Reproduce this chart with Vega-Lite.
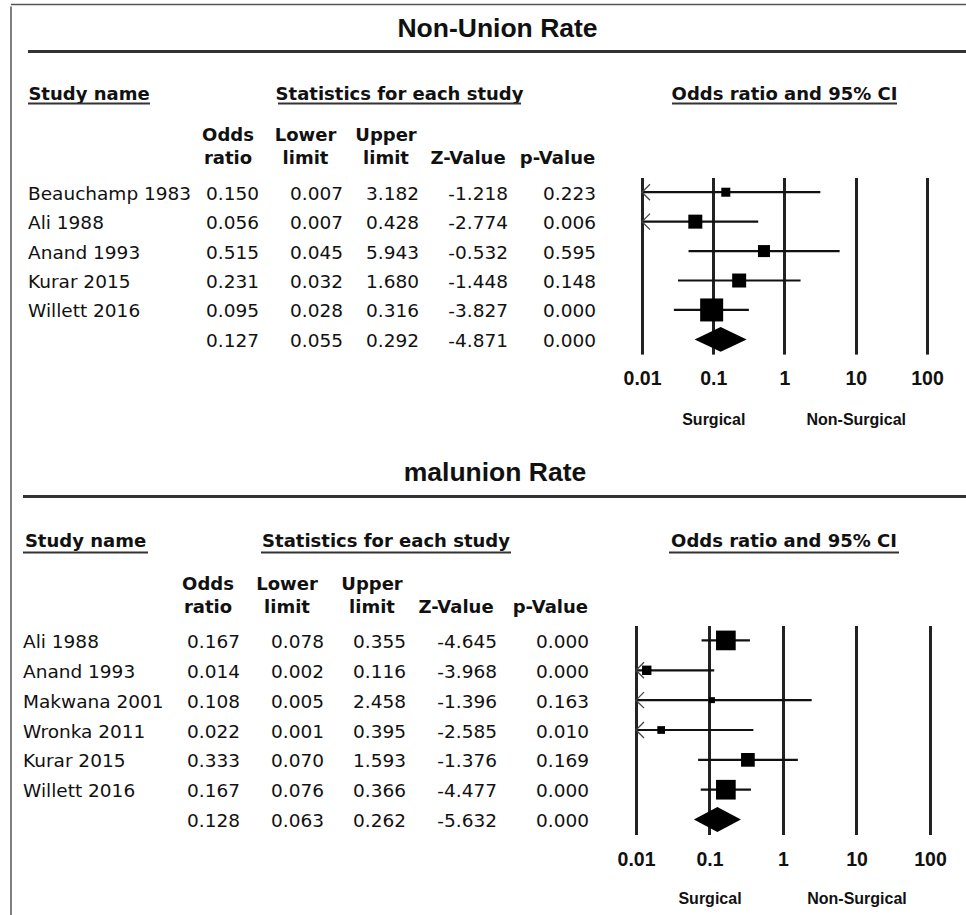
{
  "$schema": "https://vega.github.io/schema/vega-lite/v6.json",
  "padding": {"left": 10, "top": 3.5, "right": 0, "bottom": 0},
  "background": "white",
  "config": {
    "view": {"stroke": null},
    "locale": {"number": {"decimal": ".", "thousands": ",", "grouping": [3], "currency": ["$", ""], "minus": "-"}},
    "text": {"font": "DejaVu Sans", "color": "#111"}
  },
  "datasets": {
    "nonunion": [
      {"row": 1, "study": "Beauchamp 1983", "kind": "study", "or": 0.150, "lower": 0.007, "upper": 3.182, "z": -1.218, "p": 0.223, "weight": 7.1},
      {"row": 2, "study": "Ali 1988", "kind": "study", "or": 0.056, "lower": 0.007, "upper": 0.428, "z": -2.774, "p": 0.006, "weight": 17.1},
      {"row": 3, "study": "Anand 1993", "kind": "study", "or": 0.515, "lower": 0.045, "upper": 5.943, "z": -0.532, "p": 0.595, "weight": 12.6},
      {"row": 4, "study": "Kurar 2015", "kind": "study", "or": 0.231, "lower": 0.032, "upper": 1.680, "z": -1.448, "p": 0.148, "weight": 17.1},
      {"row": 5, "study": "Willett 2016", "kind": "study", "or": 0.095, "lower": 0.028, "upper": 0.316, "z": -3.827, "p": 0.000, "weight": 46.2},
      {"row": 6, "study": "", "kind": "summary", "or": 0.127, "lower": 0.055, "upper": 0.292, "z": -4.871, "p": 0.000, "weight": null}
    ],
    "malunion": [
      {"row": 1, "study": "Ali 1988", "kind": "study", "or": 0.167, "lower": 0.078, "upper": 0.355, "z": -4.645, "p": 0.000, "weight": 33.8},
      {"row": 2, "study": "Anand 1993", "kind": "study", "or": 0.014, "lower": 0.002, "upper": 0.116, "z": -3.968, "p": 0.000, "weight": 7.7},
      {"row": 3, "study": "Makwana 2001", "kind": "study", "or": 0.108, "lower": 0.005, "upper": 2.458, "z": -1.396, "p": 0.163, "weight": 3.1},
      {"row": 4, "study": "Wronka 2011", "kind": "study", "or": 0.022, "lower": 0.001, "upper": 0.395, "z": -2.585, "p": 0.010, "weight": 5.2},
      {"row": 5, "study": "Kurar 2015", "kind": "study", "or": 0.333, "lower": 0.070, "upper": 1.593, "z": -1.376, "p": 0.169, "weight": 16.4},
      {"row": 6, "study": "Willett 2016", "kind": "study", "or": 0.167, "lower": 0.076, "upper": 0.366, "z": -4.477, "p": 0.000, "weight": 33.8},
      {"row": 7, "study": "", "kind": "summary", "or": 0.128, "lower": 0.063, "upper": 0.262, "z": -5.632, "p": 0.000, "weight": null}
    ]
  },
  "spacing": 0,
  "vconcat": [
    {"width": 956, "height": 1, "data": {"values": [{}]}, "mark": {"type": "rule", "color": "#555", "strokeWidth": 1.5},
     "encoding": {"y": {"datum": 1, "type": "quantitative", "scale": {"domain": [0, 1]}, "axis": null}}},
    {"spacing": 11, "bounds": "flush", "hconcat": [
      {"width": 1, "height": 910, "data": {"values": [{}]}, "mark": {"type": "rule", "color": "#555", "strokeWidth": 1.5},
       "encoding": {"x": {"datum": 0, "type": "quantitative", "scale": {"domain": [0, 1]}, "axis": null}}},
      {"spacing": 20, "vconcat": [
        {"spacing": 0, "bounds": "flush", "hconcat": [
          {"width": 5, "height": 1, "data": {"values": [{}]}, "mark": {"type": "rect", "opacity": 0}, "encoding": {}},
          {"spacing": 0, "vconcat": [
            {"width": 939, "height": 45, "data": {"values": [{"t": "Non-Union Rate"}]},
             "layer": [
               {"mark": {"type": "text", "font": "Liberation Sans", "fontSize": 26.5, "fontWeight": "bold", "baseline": "middle", "color": "#111"},
                "encoding": {"y": {"field": "t", "type": "nominal", "axis": null, "scale": {"type": "band", "paddingInner": 0, "paddingOuter": 0}}, "text": {"field": "t"}}},
               {"mark": {"type": "rule", "strokeWidth": 3, "color": "#333"},
                "encoding": {"y": {"field": "t", "type": "nominal", "axis": null, "bandPosition": 1}}}
             ]},
            {"width": 1, "height": 31.5, "data": {"values": [{}]}, "mark": {"type": "rect", "opacity": 0}, "encoding": {}},
            {"spacing": 0, "bounds": "flush", "hconcat": [
              {"width": 122, "height": 18, "data": {"values": [{"h": "Study name"}]},
               "layer": [
                 {"mark": {"type": "text", "fontSize": 18, "fontWeight": "bold", "baseline": "middle"},
                  "encoding": {"y": {"field": "h", "type": "nominal", "axis": null, "scale": {"type": "band", "paddingInner": 0, "paddingOuter": 0}}, "text": {"field": "h"}}},
                 {"mark": {"type": "rule", "strokeWidth": 2, "color": "#333"}, "encoding": {"y": {"field": "h", "type": "nominal", "axis": null, "bandPosition": 1}}}
               ]},
              {"width": 128, "height": 1, "data": {"values": [{}]}, "mark": {"type": "rect", "opacity": 0}, "encoding": {}},
              {"width": 243, "height": 18, "data": {"values": [{"h": "Statistics for each study"}]},
               "layer": [
                 {"mark": {"type": "text", "fontSize": 18, "fontWeight": "bold", "baseline": "middle"},
                  "encoding": {"y": {"field": "h", "type": "nominal", "axis": null, "scale": {"type": "band", "paddingInner": 0, "paddingOuter": 0}}, "text": {"field": "h"}}},
                 {"mark": {"type": "rule", "strokeWidth": 2, "color": "#333"}, "encoding": {"y": {"field": "h", "type": "nominal", "axis": null, "bandPosition": 1}}}
               ]},
              {"width": 151, "height": 1, "data": {"values": [{}]}, "mark": {"type": "rect", "opacity": 0}, "encoding": {}},
              {"width": 225, "height": 18, "data": {"values": [{"h": "Odds ratio and 95% CI"}]},
               "layer": [
                 {"mark": {"type": "text", "fontSize": 18, "fontWeight": "bold", "baseline": "middle"},
                  "encoding": {"y": {"field": "h", "type": "nominal", "axis": null, "scale": {"type": "band", "paddingInner": 0, "paddingOuter": 0}}, "text": {"field": "h"}}},
                 {"mark": {"type": "rule", "strokeWidth": 2, "color": "#333"}, "encoding": {"y": {"field": "h", "type": "nominal", "axis": null, "bandPosition": 1}}}
               ]}
            ]},
            {"width": 1, "height": 21.7, "data": {"values": [{}]}, "mark": {"type": "rect", "opacity": 0}, "encoding": {}},
            {"spacing": 0, "bounds": "flush", "hconcat": [
              {"width": 183, "height": 176.6, "data": {"name": "nonunion"},
               "mark": {"type": "text", "align": "left", "baseline": "middle", "fontSize": 18.5, "dy": 1.5},
               "encoding": {"x": {"datum": 0, "type": "quantitative", "scale": {"domain": [0, 1]}, "axis": null},
                            "y": {"field": "row", "type": "ordinal", "axis": null, "scale": {"type": "band", "paddingInner": 0, "paddingOuter": 0}},
                            "text": {"field": "study"}}},
              {"width": 96, "height": 176.6, "data": {"name": "nonunion"},
               "title": {"text": ["Odds", "ratio"], "frame": "group", "anchor": "middle", "align": "center", "baseline": "bottom", "offset": -8, "dx": -31, "font": "DejaVu Sans", "fontSize": 18, "fontWeight": "bold", "lineHeight": 23, "color": "#111"},
               "mark": {"type": "text", "align": "right", "baseline": "middle", "fontSize": 18.5, "dy": 1.5},
               "encoding": {"y": {"field": "row", "type": "ordinal", "axis": null, "scale": {"type": "band", "paddingInner": 0, "paddingOuter": 0}},
                            "text": {"field": "or", "type": "quantitative", "format": ".3f"}}},
              {"width": 72, "height": 176.6, "data": {"name": "nonunion"},
               "title": {"text": ["Lower", "limit"], "frame": "group", "anchor": "middle", "align": "center", "baseline": "bottom", "offset": -8, "dx": -37.5, "font": "DejaVu Sans", "fontSize": 18, "fontWeight": "bold", "lineHeight": 23, "color": "#111"},
               "mark": {"type": "text", "align": "right", "baseline": "middle", "fontSize": 18.5, "dy": 1.5},
               "encoding": {"y": {"field": "row", "type": "ordinal", "axis": null, "scale": {"type": "band", "paddingInner": 0, "paddingOuter": 0}},
                            "text": {"field": "lower", "type": "quantitative", "format": ".3f"}}},
              {"width": 80, "height": 176.6, "data": {"name": "nonunion"},
               "title": {"text": ["Upper", "limit"], "frame": "group", "anchor": "middle", "align": "center", "baseline": "bottom", "offset": -8, "dx": -33, "font": "DejaVu Sans", "fontSize": 18, "fontWeight": "bold", "lineHeight": 23, "color": "#111"},
               "mark": {"type": "text", "align": "right", "baseline": "middle", "fontSize": 18.5, "dy": 1.5},
               "encoding": {"y": {"field": "row", "type": "ordinal", "axis": null, "scale": {"type": "band", "paddingInner": 0, "paddingOuter": 0}},
                            "text": {"field": "upper", "type": "quantitative", "format": ".3f"}}},
              {"width": 98, "height": 176.6, "data": {"name": "nonunion"},
               "title": {"text": "Z-Value", "frame": "group", "anchor": "middle", "align": "center", "baseline": "bottom", "offset": -8, "dx": -40, "font": "DejaVu Sans", "fontSize": 18, "fontWeight": "bold", "lineHeight": 23, "color": "#111"},
               "mark": {"type": "text", "align": "right", "baseline": "middle", "fontSize": 18.5, "dy": 1.5},
               "encoding": {"y": {"field": "row", "type": "ordinal", "axis": null, "scale": {"type": "band", "paddingInner": 0, "paddingOuter": 0}},
                            "text": {"field": "z", "type": "quantitative", "format": ".3f"}}},
              {"width": 78, "height": 176.6, "data": {"name": "nonunion"},
               "title": {"text": "p-Value", "frame": "group", "anchor": "middle", "align": "center", "baseline": "bottom", "offset": -8, "dx": -38.5, "font": "DejaVu Sans", "fontSize": 18, "fontWeight": "bold", "lineHeight": 23, "color": "#111"},
               "mark": {"type": "text", "align": "right", "baseline": "middle", "fontSize": 18.5, "dy": 1.5},
               "encoding": {"y": {"field": "row", "type": "ordinal", "axis": null, "scale": {"type": "band", "paddingInner": 0, "paddingOuter": 0}},
                            "text": {"field": "p", "type": "quantitative", "format": ".3f"}}},
              {"width": 7, "height": 1, "data": {"values": [{}]}, "mark": {"type": "rect", "opacity": 0}, "encoding": {}},
              {"width": 285, "height": 176.6, "data": {"name": "nonunion"},
               "resolve": {"axis": {"x": "independent"}},
               "layer": [
                 {"transform": [{"filter": "datum.kind == 'study'"}],
                  "mark": {"type": "rule", "strokeWidth": 2.2, "color": "#111"},
                  "encoding": {
                    "x": {"field": "lower", "type": "quantitative",
                          "scale": {"type": "log", "domain": [0.01, 100], "clamp": true},
                          "axis": {"orient": "bottom", "values": [0.01, 0.1, 1, 10, 100], "labelExpr": "'' + datum.value", "grid": true, "gridColor": "#222", "gridWidth": 3, "gridOpacity": 1, "domain": false, "ticks": false, "tickSize": 0, "labelPadding": 15.5, "labelFont": "Liberation Sans", "labelFontWeight": "bold", "labelFontSize": 19.5, "labelColor": "#111", "labelFlush": false, "labelOverlap": false, "title": null}},
                    "x2": {"field": "upper"},
                    "y": {"field": "row", "type": "ordinal", "axis": null, "scale": {"type": "band", "paddingInner": 0, "paddingOuter": 0}}}},
                 {"transform": [{"filter": "datum.lower < 0.01"}],
                  "mark": {"type": "point", "shape": "M1,-1L0,0L1,1", "size": 256, "filled": false, "strokeWidth": 1.3, "color": "#444", "opacity": 1},
                  "encoding": {
                    "x": {"field": "lower", "type": "quantitative", "axis": null},
                    "y": {"field": "row", "type": "ordinal", "axis": null}}},
                 {"transform": [{"filter": "datum.kind == 'study'"}],
                  "mark": {"type": "point", "shape": "square", "filled": true, "color": "#000", "opacity": 1},
                  "encoding": {
                    "x": {"field": "or", "type": "quantitative",
                          "axis": {"orient": "bottom", "values": [0.1, 10], "labelExpr": "datum.value < 1 ? 'Surgical' : 'Non-Surgical'", "grid": false, "domain": false, "ticks": false, "tickSize": 0, "labelPadding": 57.8, "labelFont": "Liberation Sans", "labelFontWeight": "bold", "labelFontSize": 16, "labelColor": "#111", "labelFlush": false, "labelOverlap": false, "title": null}},
                    "y": {"field": "row", "type": "ordinal", "axis": null},
                    "size": {"field": "weight", "type": "quantitative", "scale": {"domain": [0, 46.2], "range": [0, 529]}, "legend": null}}},
                 {"transform": [{"filter": "datum.kind == 'summary'"}],
                  "mark": {"type": "point", "shape": "M-1,0L0,-0.48L1,0L0,0.48Z", "size": 2704, "filled": true, "color": "#000", "opacity": 1},
                  "encoding": {
                    "x": {"field": "or", "type": "quantitative", "axis": null},
                    "y": {"field": "row", "type": "ordinal", "axis": null}}}
               ]}
            ]}
          ]}
        ]},
        {"spacing": 0, "vconcat": [
          {"width": 944, "height": 48, "data": {"values": [{"t": "malunion Rate"}]},
           "layer": [
             {"mark": {"type": "text", "font": "Liberation Sans", "fontSize": 26.5, "fontWeight": "bold", "baseline": "middle", "color": "#111"},
              "encoding": {"y": {"field": "t", "type": "nominal", "axis": null, "scale": {"type": "band", "paddingInner": 0, "paddingOuter": 0}}, "text": {"field": "t"}}},
             {"mark": {"type": "rule", "strokeWidth": 3, "color": "#333"},
              "encoding": {"y": {"field": "t", "type": "nominal", "axis": null, "bandPosition": 1}}}
           ]},
          {"width": 1, "height": 33, "data": {"values": [{}]}, "mark": {"type": "rect", "opacity": 0}, "encoding": {}},
          {"spacing": 0, "bounds": "flush", "hconcat": [
            {"width": 125, "height": 21, "data": {"values": [{"h": "Study name"}]},
             "layer": [
               {"mark": {"type": "text", "fontSize": 18, "fontWeight": "bold", "baseline": "middle"},
                "encoding": {"y": {"field": "h", "type": "nominal", "axis": null, "scale": {"type": "band", "paddingInner": 0, "paddingOuter": 0}}, "text": {"field": "h"}}},
               {"mark": {"type": "rule", "strokeWidth": 2, "color": "#333"}, "encoding": {"y": {"field": "h", "type": "nominal", "axis": null, "bandPosition": 1}}}
             ]},
            {"width": 113, "height": 1, "data": {"values": [{}]}, "mark": {"type": "rect", "opacity": 0}, "encoding": {}},
            {"width": 250, "height": 21, "data": {"values": [{"h": "Statistics for each study"}]},
             "layer": [
               {"mark": {"type": "text", "fontSize": 18, "fontWeight": "bold", "baseline": "middle"},
                "encoding": {"y": {"field": "h", "type": "nominal", "axis": null, "scale": {"type": "band", "paddingInner": 0, "paddingOuter": 0}}, "text": {"field": "h"}}},
               {"mark": {"type": "rule", "strokeWidth": 2, "color": "#333"}, "encoding": {"y": {"field": "h", "type": "nominal", "axis": null, "bandPosition": 1}}}
             ]},
            {"width": 158, "height": 1, "data": {"values": [{}]}, "mark": {"type": "rect", "opacity": 0}, "encoding": {}},
            {"width": 230, "height": 21, "data": {"values": [{"h": "Odds ratio and 95% CI"}]},
             "layer": [
               {"mark": {"type": "text", "fontSize": 18, "fontWeight": "bold", "baseline": "middle"},
                "encoding": {"y": {"field": "h", "type": "nominal", "axis": null, "scale": {"type": "band", "paddingInner": 0, "paddingOuter": 0}}, "text": {"field": "h"}}},
               {"mark": {"type": "rule", "strokeWidth": 2, "color": "#333"}, "encoding": {"y": {"field": "h", "type": "nominal", "axis": null, "bandPosition": 1}}}
             ]}
          ]},
          {"width": 1, "height": 21.5, "data": {"values": [{}]}, "mark": {"type": "rect", "opacity": 0}, "encoding": {}},
          {"spacing": 0, "bounds": "flush", "hconcat": [
            {"width": 170, "height": 209, "data": {"name": "malunion"},
             "mark": {"type": "text", "align": "left", "baseline": "middle", "fontSize": 18.5, "dy": 1.5},
             "encoding": {"x": {"datum": 0, "type": "quantitative", "scale": {"domain": [0, 1]}, "axis": null},
                          "y": {"field": "row", "type": "ordinal", "axis": null, "scale": {"type": "band", "paddingInner": 0, "paddingOuter": 0}},
                          "text": {"field": "study"}}},
            {"width": 94, "height": 209, "data": {"name": "malunion"},
             "title": {"text": ["Odds", "ratio"], "frame": "group", "anchor": "middle", "align": "center", "baseline": "bottom", "offset": -9.5, "dx": -32, "font": "DejaVu Sans", "fontSize": 18, "fontWeight": "bold", "lineHeight": 23, "color": "#111"},
             "mark": {"type": "text", "align": "right", "baseline": "middle", "fontSize": 18.5, "dy": 1.5},
             "encoding": {"y": {"field": "row", "type": "ordinal", "axis": null, "scale": {"type": "band", "paddingInner": 0, "paddingOuter": 0}},
                          "text": {"field": "or", "type": "quantitative", "format": ".3f"}}},
            {"width": 74, "height": 209, "data": {"name": "malunion"},
             "title": {"text": ["Lower", "limit"], "frame": "group", "anchor": "middle", "align": "center", "baseline": "bottom", "offset": -9.5, "dx": -37, "font": "DejaVu Sans", "fontSize": 18, "fontWeight": "bold", "lineHeight": 23, "color": "#111"},
             "mark": {"type": "text", "align": "right", "baseline": "middle", "fontSize": 18.5, "dy": 1.5},
             "encoding": {"y": {"field": "row", "type": "ordinal", "axis": null, "scale": {"type": "band", "paddingInner": 0, "paddingOuter": 0}},
                          "text": {"field": "lower", "type": "quantitative", "format": ".3f"}}},
            {"width": 90, "height": 209, "data": {"name": "malunion"},
             "title": {"text": ["Upper", "limit"], "frame": "group", "anchor": "middle", "align": "center", "baseline": "bottom", "offset": -9.5, "dx": -34, "font": "DejaVu Sans", "fontSize": 18, "fontWeight": "bold", "lineHeight": 23, "color": "#111"},
             "mark": {"type": "text", "align": "right", "baseline": "middle", "fontSize": 18.5, "dy": 1.5},
             "encoding": {"y": {"field": "row", "type": "ordinal", "axis": null, "scale": {"type": "band", "paddingInner": 0, "paddingOuter": 0}},
                          "text": {"field": "upper", "type": "quantitative", "format": ".3f"}}},
            {"width": 92, "height": 209, "data": {"name": "malunion"},
             "title": {"text": "Z-Value", "frame": "group", "anchor": "middle", "align": "center", "baseline": "bottom", "offset": -9.5, "dx": -41, "font": "DejaVu Sans", "fontSize": 18, "fontWeight": "bold", "lineHeight": 23, "color": "#111"},
             "mark": {"type": "text", "align": "right", "baseline": "middle", "fontSize": 18.5, "dy": 1.5},
             "encoding": {"y": {"field": "row", "type": "ordinal", "axis": null, "scale": {"type": "band", "paddingInner": 0, "paddingOuter": 0}},
                          "text": {"field": "z", "type": "quantitative", "format": ".3f"}}},
            {"width": 92, "height": 209, "data": {"name": "malunion"},
             "title": {"text": "p-Value", "frame": "group", "anchor": "middle", "align": "center", "baseline": "bottom", "offset": -9.5, "dx": -38.6, "font": "DejaVu Sans", "fontSize": 18, "fontWeight": "bold", "lineHeight": 23, "color": "#111"},
             "mark": {"type": "text", "align": "right", "baseline": "middle", "fontSize": 18.5, "dy": 1.5},
             "encoding": {"y": {"field": "row", "type": "ordinal", "axis": null, "scale": {"type": "band", "paddingInner": 0, "paddingOuter": 0}},
                          "text": {"field": "p", "type": "quantitative", "format": ".3f"}}},
            {"width": 1, "height": 1, "data": {"values": [{}]}, "mark": {"type": "rect", "opacity": 0}, "encoding": {}},
            {"width": 294, "height": 209, "data": {"name": "malunion"},
             "resolve": {"axis": {"x": "independent"}},
             "layer": [
               {"transform": [{"filter": "datum.kind == 'study'"}],
                "mark": {"type": "rule", "strokeWidth": 2.2, "color": "#111"},
                "encoding": {
                  "x": {"field": "lower", "type": "quantitative",
                        "scale": {"type": "log", "domain": [0.01, 100], "clamp": true},
                        "axis": {"orient": "bottom", "values": [0.01, 0.1, 1, 10, 100], "labelExpr": "'' + datum.value", "grid": true, "gridColor": "#222", "gridWidth": 3, "gridOpacity": 1, "domain": false, "ticks": false, "tickSize": 0, "labelPadding": 15.5, "labelFont": "Liberation Sans", "labelFontWeight": "bold", "labelFontSize": 19.5, "labelColor": "#111", "labelFlush": false, "labelOverlap": false, "title": null}},
                  "x2": {"field": "upper"},
                  "y": {"field": "row", "type": "ordinal", "axis": null, "scale": {"type": "band", "paddingInner": 0, "paddingOuter": 0}}}},
               {"transform": [{"filter": "datum.lower < 0.01"}],
                "mark": {"type": "point", "shape": "M1,-1L0,0L1,1", "size": 256, "filled": false, "strokeWidth": 1.3, "color": "#444", "opacity": 1},
                "encoding": {
                  "x": {"field": "lower", "type": "quantitative", "axis": null},
                  "y": {"field": "row", "type": "ordinal", "axis": null}}},
               {"transform": [{"filter": "datum.kind == 'study'"}],
                "mark": {"type": "point", "shape": "square", "filled": true, "color": "#000", "opacity": 1},
                "encoding": {
                  "x": {"field": "or", "type": "quantitative",
                        "axis": {"orient": "bottom", "values": [0.1, 10], "labelExpr": "datum.value < 1 ? 'Surgical' : 'Non-Surgical'", "grid": false, "domain": false, "ticks": false, "tickSize": 0, "labelPadding": 56, "labelFont": "Liberation Sans", "labelFontWeight": "bold", "labelFontSize": 16, "labelColor": "#111", "labelFlush": false, "labelOverlap": false, "title": null}},
                  "y": {"field": "row", "type": "ordinal", "axis": null},
                  "size": {"field": "weight", "type": "quantitative", "scale": {"domain": [0, 33.8], "range": [0, 529]}, "legend": null}}},
               {"transform": [{"filter": "datum.kind == 'summary'"}],
                "mark": {"type": "point", "shape": "M-1,0L0,-0.53L1,0L0,0.53Z", "size": 2209, "filled": true, "color": "#000", "opacity": 1},
                "encoding": {
                  "x": {"field": "or", "type": "quantitative", "axis": null},
                  "y": {"field": "row", "type": "ordinal", "axis": null}}}
             ]}
          ]}
        ]}
      ]}
    ]}
  ]
}
